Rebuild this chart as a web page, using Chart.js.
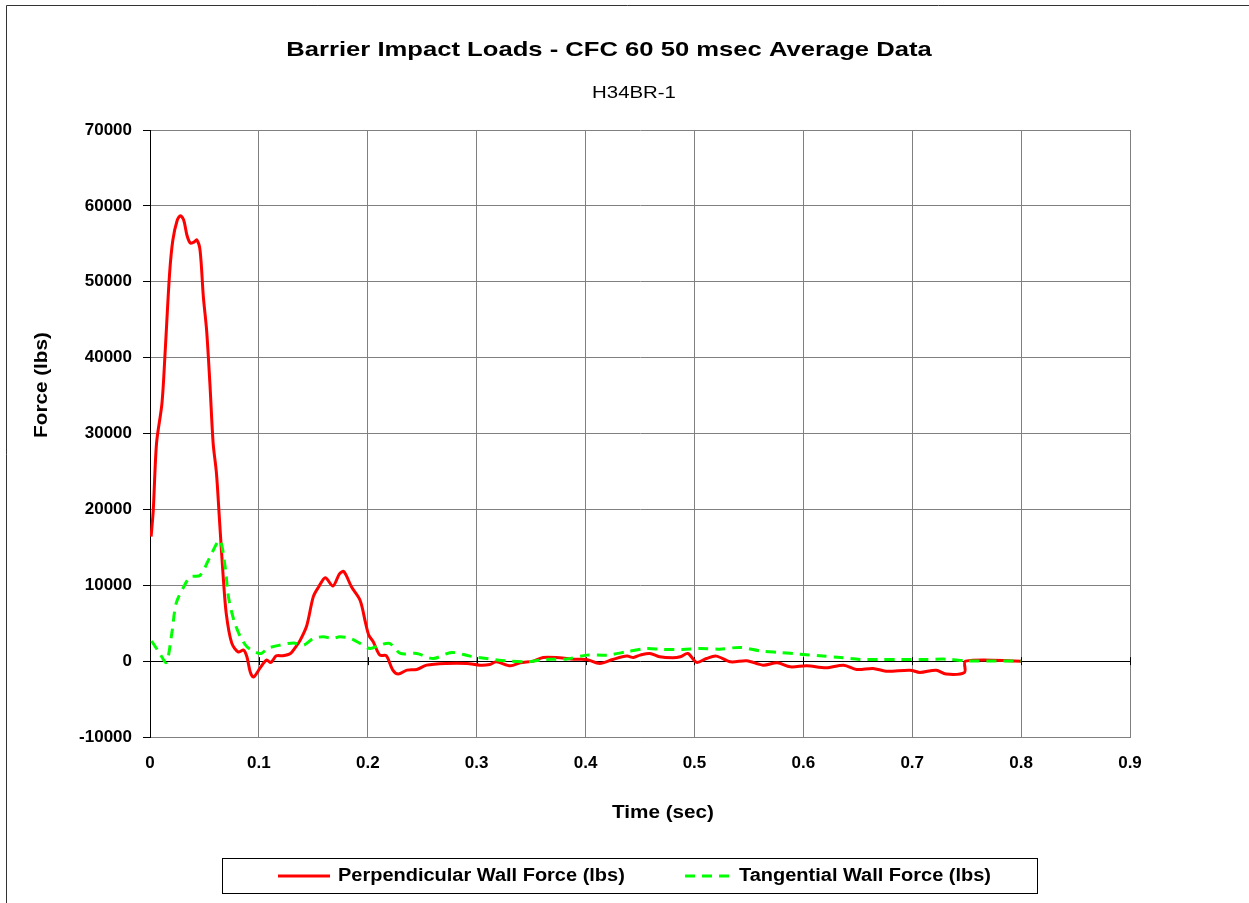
<!DOCTYPE html>
<html lang="en">
<head>
  <meta charset="UTF-8">
  <title>Barrier Impact Loads - CFC 60 50 msec Average Data</title>
  <script src="https://cdn.jsdelivr.net/npm/chart.js"></script>
  <style>
    body {
      margin: 0;
      padding: 0;
      background-color: #ffffff;
      overflow: hidden;
    }
    #chartBox {
      position: relative;
      width: 1249px;
      height: 903px;
    }
  </style>
</head>
<body>
  <div id="chartBox">
    <canvas id="barrierChart" width="1249" height="903"></canvas>
  </div>

  <script>
    // Data
    const chartTitle = 'Barrier Impact Loads - CFC 60 50 msec Average Data';
    const chartSubtitle = 'H34BR-1';
    const xAxisTitle = 'Time (sec)';
    const yAxisTitle = 'Force (lbs)';
    const seriesNames = ['Perpendicular Wall Force (lbs)', 'Tangential Wall Force (lbs)'];

    const perpTime = [0.001, 0.003, 0.006, 0.011, 0.014, 0.018, 0.021, 0.025, 0.028, 0.031, 0.034, 0.037, 0.040, 0.043, 0.046, 0.049, 0.052, 0.055, 0.058, 0.061, 0.064, 0.067, 0.070, 0.075, 0.081, 0.086, 0.089, 0.092, 0.095, 0.101, 0.107, 0.111, 0.116, 0.122, 0.129, 0.134, 0.138, 0.144, 0.150, 0.155, 0.161, 0.168, 0.174, 0.178, 0.185, 0.193, 0.198, 0.201, 0.205, 0.211, 0.217, 0.223, 0.228, 0.236, 0.245, 0.254, 0.272, 0.291, 0.303, 0.312, 0.318, 0.331, 0.340, 0.352, 0.361, 0.376, 0.389, 0.401, 0.413, 0.425, 0.438, 0.444, 0.450, 0.459, 0.468, 0.480, 0.487, 0.494, 0.502, 0.511, 0.520, 0.533, 0.548, 0.563, 0.576, 0.588, 0.603, 0.621, 0.637, 0.649, 0.664, 0.676, 0.698, 0.707, 0.722, 0.731, 0.748, 0.749, 0.800];
    const perpForce = [16400, 19900, 28700, 34000, 41000, 51100, 55500, 58100, 58700, 58100, 56100, 55100, 55200, 55500, 54100, 48000, 43600, 36600, 28700, 24800, 18200, 11600, 6300, 2400, 1200, 1450, 570, -1400, -2100, -930, 130, -180, 700, 700, 1000, 1900, 2770, 4700, 8500, 9800, 11000, 9900, 11500, 11800, 9800, 8000, 5000, 3400, 2550, 800, 700, -1190, -1710, -1190, -1100, -530, -300, -300, -530, -440, -90, -620, -220, 0, 480, 440, 260, 220, -300, 220, 660, 480, 790, 1010, 570, 440, 570, 1010, -170, 350, 660, -90, 40, -530, -220, -750, -620, -880, -530, -1100, -960, -1320, -1190, -1490, -1190, -1710, -1490, 0, 0];

    const tangTime = [0.0015, 0.009, 0.015, 0.020, 0.024, 0.031, 0.037, 0.046, 0.055, 0.064, 0.069, 0.072, 0.077, 0.083, 0.089, 0.096, 0.102, 0.108, 0.119, 0.132, 0.141, 0.150, 0.159, 0.168, 0.174, 0.184, 0.193, 0.202, 0.211, 0.220, 0.230, 0.245, 0.260, 0.277, 0.294, 0.309, 0.327, 0.346, 0.364, 0.382, 0.401, 0.419, 0.438, 0.456, 0.471, 0.489, 0.505, 0.523, 0.542, 0.560, 0.579, 0.597, 0.615, 0.634, 0.652, 0.670, 0.689, 0.713, 0.731, 0.750, 0.800];
    const tangForce = [2650, 1000, -170, 3650, 7600, 9800, 11100, 11300, 13700, 15900, 12400, 8500, 5400, 3200, 1900, 1230, 1000, 1670, 2100, 2400, 2100, 2990, 3200, 2990, 3200, 2990, 2330, 1670, 2100, 2330, 1010, 1010, 350, 1140, 660, 350, 40, -90, 220, 260, 790, 790, 1230, 1670, 1540, 1540, 1670, 1580, 1800, 1360, 1140, 920, 700, 480, 220, 220, 220, 220, 260, 40, 0];

    const xMin = 0, xMax = 0.9, xStep = 0.1;
    const yMin = -10000, yMax = 70000, yStep = 10000;

    const FONT = "'Liberation Sans', Arial, sans-serif";
    const RED = '#ff0000';
    const GREEN = '#00ff00';

    function toPoints(xs, ys) {
      return xs.map((x, i) => ({ x: x, y: ys[i] }));
    }

    // stretched text helper (the source renders its text a bit wide)
    function wideText(ctx, text, x, y, font, stretch, align) {
      ctx.save();
      ctx.font = font;
      ctx.fillStyle = '#000';
      ctx.textBaseline = 'middle';
      const w = ctx.measureText(text).width * stretch;
      let left = x;
      if (align === 'center') left = x - w / 2;
      ctx.translate(left, y);
      ctx.scale(stretch, 1);
      ctx.textAlign = 'left';
      ctx.fillText(text, 0, 0);
      ctx.restore();
    }

    const decorations = {
      id: 'decorations',
      beforeDraw(chart) {
        const ctx = chart.ctx;
        ctx.save();
        ctx.fillStyle = '#fff';
        ctx.fillRect(0, 0, chart.width, chart.height);
        // outer frame (top + left edges visible)
        ctx.strokeStyle = '#333';
        ctx.lineWidth = 1;
        ctx.beginPath();
        ctx.moveTo(6.5, chart.height);
        ctx.lineTo(6.5, 5.5);
        ctx.lineTo(chart.width, 5.5);
        ctx.stroke();
        ctx.restore();
      },
      beforeDatasetsDraw(chart) {
        const ctx = chart.ctx;
        const xs = chart.scales.x, ys = chart.scales.y;
        const y0 = ys.getPixelForValue(0);
        ctx.save();
        ctx.strokeStyle = '#000';
        ctx.lineWidth = 1;
        ctx.beginPath();
        xs.ticks.forEach(t => {
          const px = Math.round(xs.getPixelForValue(t.value)) + 0.5;
          ctx.moveTo(px, y0 - 4);
          ctx.lineTo(px, y0 + 4);
        });
        ctx.stroke();
        ctx.restore();
      },
      afterDraw(chart) {
        const ctx = chart.ctx;
        wideText(ctx, chartTitle, 609, 50, 'bold 21px ' + FONT, 1.22, 'center');
        wideText(ctx, chartSubtitle, 634, 93, '17px ' + FONT, 1.2, 'center');
        wideText(ctx, xAxisTitle, 663, 813, 'bold 18px ' + FONT, 1.15, 'center');

        // y axis title, rotated
        ctx.save();
        ctx.translate(42, 385);
        ctx.rotate(-Math.PI / 2);
        wideText(ctx, yAxisTitle, 0, 0, 'bold 18px ' + FONT, 1.15, 'center');
        ctx.restore();

        // legend box
        ctx.save();
        ctx.strokeStyle = '#000';
        ctx.lineWidth = 1;
        ctx.strokeRect(222.5, 858.5, 815, 35);
        const ly = 876;
        const ds = chart.data.datasets;
        const items = [
          { x1: 278, x2: 330, tx: 338 },
          { x1: 685, x2: 735, tx: 739 }
        ];
        items.forEach((it, i) => {
          ctx.save();
          ctx.strokeStyle = ds[i].borderColor;
          ctx.lineWidth = 3;
          ctx.setLineDash(ds[i].borderDash || []);
          ctx.beginPath();
          ctx.moveTo(it.x1, ly);
          ctx.lineTo(it.x2, ly);
          ctx.stroke();
          ctx.restore();
          wideText(ctx, ds[i].label, it.tx, ly, 'bold 18px ' + FONT, 1.11, 'left');
        });
        ctx.restore();
      }
    };

    const barrierChart = new Chart(document.getElementById('barrierChart').getContext('2d'), {
      type: 'line',
      data: {
        datasets: [{
          label: seriesNames[0],
          data: toPoints(perpTime, perpForce),
          borderColor: RED,
          borderWidth: 3,
          pointRadius: 0,
          tension: 0.3,
          fill: false,
          order: 1
        }, {
          label: seriesNames[1],
          data: toPoints(tangTime, tangForce),
          borderColor: GREEN,
          borderWidth: 3,
          borderDash: [10, 7],
          pointRadius: 0,
          tension: 0.3,
          fill: false,
          order: 0
        }]
      },
      options: {
        responsive: false,
        animation: false,
        layout: { padding: { left: 0, top: 130, right: 119, bottom: 126 } },
        plugins: {
          legend: { display: false },
          title: { display: false },
          tooltip: { enabled: false }
        },
        scales: {
          x: {
            type: 'linear',
            min: xMin,
            max: xMax,
            grid: { color: '#808080', lineWidth: 1, drawTicks: false },
            border: { color: '#808080' },
            ticks: {
              stepSize: xStep,
              padding: 16,
              color: '#000',
              font: { family: FONT, size: 17, weight: 'bold' },
              callback: v => String(Number(v.toFixed(1)))
            },
            afterFit(scale) { scale.height = 40; }
          },
          y: {
            min: yMin,
            max: yMax,
            grid: {
              color: c => (c.tick && c.tick.value === 0 ? '#000' : '#808080'),
              lineWidth: 1,
              tickColor: '#000',
              tickLength: 7
            },
            border: { color: '#000', width: 1 },
            ticks: {
              stepSize: yStep,
              padding: 11,
              color: '#000',
              font: { family: FONT, size: 17, weight: 'bold' },
              callback: v => String(v)
            },
            afterFit(scale) { scale.width = 150; }
          }
        }
      },
      plugins: [decorations]
    });
  </script>
</body>
</html>
